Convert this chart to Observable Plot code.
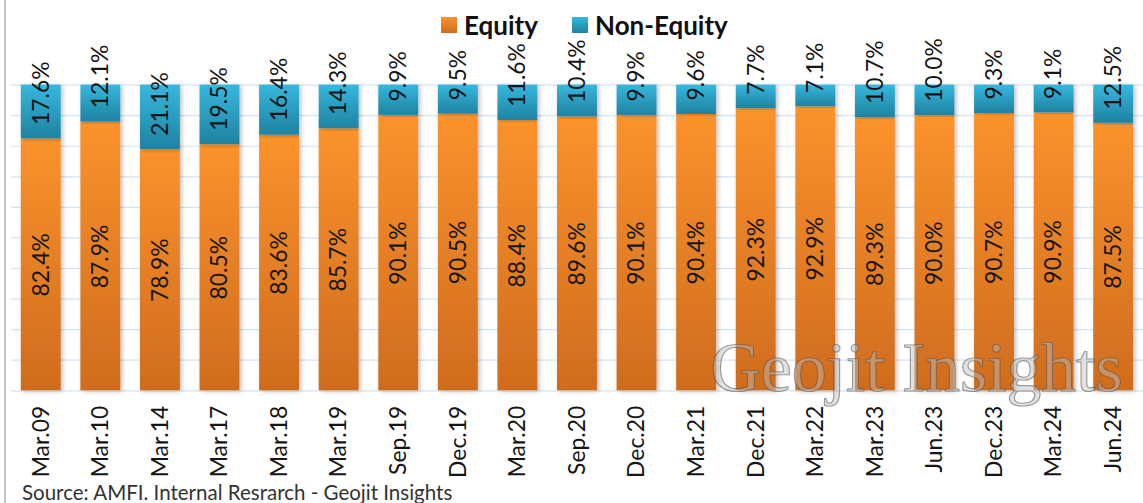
<!DOCTYPE html>
<html>
<head>
<meta charset="utf-8">
<script src="https://cdn.jsdelivr.net/npm/d3@7"></script>
<script src="https://cdn.jsdelivr.net/npm/@observablehq/plot@0.6"></script>
<style>
  html, body { margin: 0; padding: 0; background: #fff; overflow: hidden; }
  #wrap { position: relative; width: 1143px; height: 503px; overflow: hidden; font-family: Lato, "Open Sans", sans-serif; }
  #chart { position: absolute; left: 0; top: 0; }
  #border { position: absolute; left: 4px; top: 0; width: 2px; height: 503px; background: #c4c4c4; }
  .leg { position: absolute; top: 8px; font-weight: bold; font-size: 26px; color: #111; line-height: 34px; display: flex; align-items: center; }
  .sw { width: 16px; height: 16px; margin-right: 7px; display: inline-block; }
  #source { position: absolute; left: 22px; top: 480px; font-size: 20.5px; color: #333; white-space: nowrap; }
</style>
</head>
<body>
<div id="wrap">
  <div id="chart"></div>
  <div id="border"></div>
  <div class="leg" style="left:441px"><span class="sw" style="background:linear-gradient(#fa9230,#d06d1e)"></span>Equity</div>
  <div class="leg" style="left:572px"><span class="sw" style="background:linear-gradient(#35b7dd,#2083a2)"></span>Non-Equity</div>
  <div id="source">Source: AMFI. Internal Resrarch - Geojit Insights</div>
</div>
<script>
const categories = ["Mar.09","Mar.10","Mar.14","Mar.17","Mar.18","Mar.19","Sep.19","Dec.19","Mar.20","Sep.20","Dec.20","Mar.21","Dec.21","Mar.22","Mar.23","Jun.23","Dec.23","Mar.24","Jun.24"];
const equity    = [82.4, 87.9, 78.9, 80.5, 83.6, 85.7, 90.1, 90.5, 88.4, 89.6, 90.1, 90.4, 92.3, 92.9, 89.3, 90.0, 90.7, 90.9, 87.5];
const nonEquity = [17.6, 12.1, 21.1, 19.5, 16.4, 14.3,  9.9,  9.5, 11.6, 10.4,  9.9,  9.6,  7.7,  7.1, 10.7, 10.0,  9.3,  9.1, 12.5];
const gridTicks = [0, 10, 20, 30, 40, 50, 60, 70, 80, 90, 100];
const watermark = ["Geojit Insights"];

const rows = categories.map((period, i) => ({period, equity: equity[i], nonEquity: nonEquity[i]}));
const labelFont = "Lato, 'Open Sans', sans-serif";

function defsMark() {
  const g = d3.create("svg:g");
  const defs = g.append("defs");
  const ge = defs.append("linearGradient").attr("id", "gEq").attr("x1", 0).attr("y1", 0).attr("x2", 0).attr("y2", 1);
  ge.append("stop").attr("offset", "0%").attr("stop-color", "#fb922c");
  ge.append("stop").attr("offset", "100%").attr("stop-color", "#cf6c1e");
  const gn = defs.append("linearGradient").attr("id", "gNon").attr("x1", 0).attr("y1", 0).attr("x2", 0).attr("y2", 1);
  gn.append("stop").attr("offset", "0%").attr("stop-color", "#36b8de");
  gn.append("stop").attr("offset", "100%").attr("stop-color", "#1f82a1");
  const f = defs.append("filter").attr("id", "shadow").attr("x", "-20%").attr("y", "-5%").attr("width", "150%").attr("height", "110%");
  f.append("feDropShadow").attr("dx", 2).attr("dy", 1).attr("stdDeviation", 2).attr("flood-color", "#000").attr("flood-opacity", 0.25);
  return g.node();
}

const chart = Plot.plot({
  width: 1148,
  height: 468,
  marginLeft: 11,
  marginRight: 0,
  marginTop: 85,
  marginBottom: 76,
  style: {background: "transparent", overflow: "visible"},
  x: {domain: categories, paddingInner: 0.33, paddingOuter: 0.165, round: false, label: null},
  y: {domain: [0, 100], axis: null},
  marks: [
    defsMark,
    Plot.ruleY(gridTicks, {stroke: "#d6e2f1", strokeWidth: 1.2}),
    Plot.barY(rows, {x: "period", y1: 0, y2: "equity", fill: "url(#gEq)"}),
    Plot.barY(rows, {x: "period", y1: "equity", y2: 100, fill: "url(#gNon)"}),
    Plot.text(rows, {x: "period", y: d => d.equity / 2, text: d => d.equity.toFixed(1) + "%", rotate: -90,
      fontSize: 23, fontFamily: labelFont, fill: "#151515"}),
    Plot.text(rows, {x: "period", y: "equity", text: d => d.nonEquity.toFixed(1) + "%", rotate: -90, textAnchor: "start", dy: -14,
      fontSize: 23, fontFamily: labelFont, fill: "#151515"}),
    Plot.axisX({tickRotate: -90, tickSize: 0, tickPadding: 15, fontSize: 23, fontFamily: labelFont, color: "#151515", label: null}),
    Plot.text(watermark, {frameAnchor: "bottom-left", text: d => d, dx: 702, lineAnchor: "bottom", textAnchor: "start",
      fontSize: 70, fontFamily: "'Liberation Serif', 'DejaVu Serif', serif", fill: "rgba(190,190,190,0.45)", stroke: "rgba(70,70,70,0.6)", strokeWidth: 1.2})
  ]
});
d3.select(chart).selectAll("g[aria-label=bar] rect").attr("filter", "url(#shadow)");
document.getElementById("chart").appendChild(chart);
</script>
</body>
</html>
